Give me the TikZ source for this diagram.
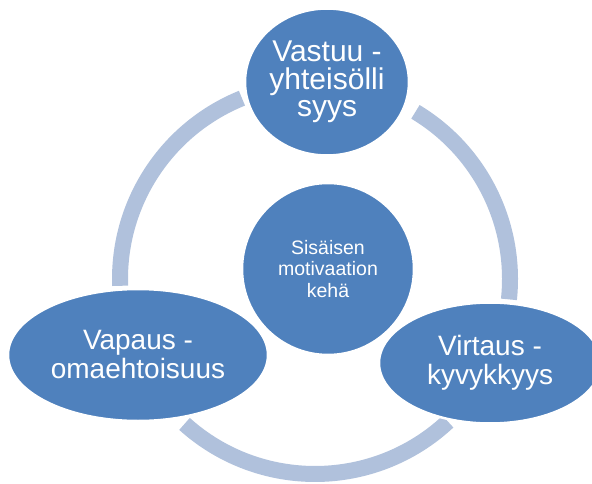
\documentclass[tikz,border=0pt]{standalone}
\usepackage{fontspec}
\setmainfont{Liberation Sans}
\usetikzlibrary{shapes.geometric}
\definecolor{nodeblue}{RGB}{79,129,189}
\definecolor{ringblue}{RGB}{176,193,220}
\begin{document}
\begin{tikzpicture}[x=1pt,y=1pt,
		ring/.style={draw=ringblue,line width=16pt},
		blob/.style={ellipse,fill=nodeblue,draw=white,line width=2.5pt,text=white,align=center,inner sep=0pt}]
		\useasboundingbox (0,0) rectangle (592,483);
		% ring behind the nodes
		\coordinate (mid) at (315,204);
		\draw[ring] (mid) ++(112:195) arc (112:182:195);
		\draw[ring] (mid) ++(228:195) arc (228:313:195);
		\draw[ring] (mid) ++(-6:195) arc (-6:59:195);
		% nodes
		\node[blob,minimum width=260pt,minimum height=132pt,font=\fontsize{28}{29}\selectfont] (vapaus) at (138,128) {Vapaus -\\omaehtoisuus};
		\node[blob,minimum width=222pt,minimum height=121pt,font=\fontsize{28}{29}\selectfont] (virtaus) at (490,120) {Virtaus -\\kyvykkyys};
		\node[blob,minimum width=164pt,minimum height=147pt,font=\fontsize{30}{27.5}\selectfont] (vastuu) at (327,401) {Vastuu -\\yhteisölli\\syys};
		\node[blob,minimum width=172pt,minimum height=172pt,font=\fontsize{19.5}{21.5}\selectfont] (keha) at (328,214) {Sisäisen\\motivaation\\kehä};
\end{tikzpicture}
\end{document}
